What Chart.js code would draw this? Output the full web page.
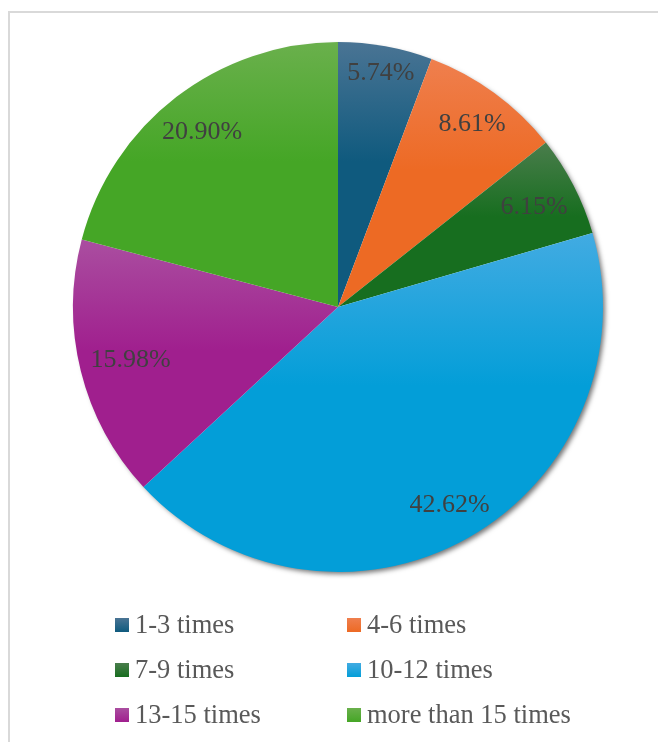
<!DOCTYPE html>
<html>
<head>
<meta charset="utf-8">
<script src="https://cdn.jsdelivr.net/npm/chart.js@4.4.1/dist/chart.umd.min.js"></script>
<style>
    body { margin: 0; background: #fff; }
    #wrap { position: relative; width: 658px; height: 742px; overflow: hidden; }
    #frame { position: absolute; left: 8px; top: 11px; width: 700px; height: 800px;
             border-left: 2px solid #d9d9d9; border-top: 2px solid #d9d9d9; }
    #pieChart { position: absolute; left: 0; top: 0; }
    .item { position: absolute; font-family: 'Liberation Serif', 'Times New Roman', serif;
            font-size: 26.5px; color: #595959; line-height: 28px; white-space: nowrap; }
    .item .box { display: inline-block; width: 14px; height: 14px; margin-right: 6px; vertical-align: 1px; }
</style>
</head>
<body>
<div id="wrap">
    <div id="frame"></div>
    <canvas id="pieChart" width="658" height="742"></canvas>
    <div id="legend"></div>
</div>
<script>
const labels = ['1-3 times', '4-6 times', '7-9 times', '10-12 times', '13-15 times', 'more than 15 times'];
const shares = [5.74, 8.61, 6.15, 42.62, 15.98, 20.90];
const baseColors = ['#0f5a7e', '#ed6a24', '#176e1f', '#039ed8', '#a01f8e', '#45a626'];
const topColors = ['#4a7494', '#ef7f4e', '#4a7d4c', '#42abe2', '#aa4ea0', '#6ab04c'];

// vertical gradient per slice, lighter at the top of each slice
function sliceGradient(context) {
    const chart = context.chart;
    const area = chart.chartArea;
    const i = context.dataIndex;
    if (!area) return baseColors[i];
    const cy = (area.top + area.bottom) / 2;
    const r = Math.min(area.right - area.left, area.bottom - area.top) / 2;
    const total = shares.reduce((a, b) => a + b, 0);
    let start = -Math.PI / 2;
    for (let k = 0; k < i; k++) start += shares[k] / total * Math.PI * 2;
    const end = start + shares[i] / total * Math.PI * 2;
    const ys = [cy, cy + r * Math.sin(start), cy + r * Math.sin(end)];
    const within = a => {
        let t = a;
        while (t < start) t += Math.PI * 2;
        return t <= end;
    };
    if (within(-Math.PI / 2)) ys.push(cy - r);
    if (within(Math.PI / 2)) ys.push(cy + r);
    const y0 = Math.min(...ys), y1 = Math.max(...ys);
    const g = chart.ctx.createLinearGradient(0, y0, 0, y1 === y0 ? y0 + 1 : y1);
    g.addColorStop(0, topColors[i]);
    g.addColorStop(0.45, baseColors[i]);
    g.addColorStop(1, baseColors[i]);
    return g;
}

const shadowPlugin = {
    id: 'pieShadow',
    beforeDatasetsDraw(chart) {
        const arc = chart.getDatasetMeta(0).data[0];
        if (!arc) return;
        const ctx = chart.ctx;
        ctx.save();
        ctx.shadowColor = 'rgba(0,0,0,0.55)';
        ctx.shadowBlur = 5;
        ctx.shadowOffsetX = 3;
        ctx.shadowOffsetY = 3;
        ctx.fillStyle = '#ffffff';
        ctx.beginPath();
        ctx.arc(arc.x, arc.y, arc.outerRadius - 1, 0, Math.PI * 2);
        ctx.fill();
        ctx.restore();
    }
};

const valueLabels = {
    id: 'valueLabels',
    afterDatasetsDraw(chart) {
        const ctx = chart.ctx;
        ctx.save();
        ctx.font = "26px 'Liberation Serif', 'Times New Roman', serif";
        ctx.fillStyle = '#404040';
        ctx.textAlign = 'center';
        ctx.textBaseline = 'middle';
        chart.getDatasetMeta(0).data.forEach((arc, i) => {
            const text = shares[i].toFixed(2) + '%';
            const w = ctx.measureText(text).width;
            const mid = (arc.startAngle + arc.endAngle) / 2;
            const c = Math.cos(mid), s = Math.sin(mid);
            const r = arc.outerRadius - 10 - (Math.abs(c) * w / 2 + Math.abs(s) * 10);
            ctx.fillText(text, arc.x + c * r, arc.y + s * r + 1);
        });
        ctx.restore();
    }
};

new Chart(document.getElementById('pieChart').getContext('2d'), {
    type: 'pie',
    data: {
        labels: labels,
        datasets: [{
            data: shares,
            backgroundColor: sliceGradient,
            borderWidth: 0
        }]
    },
    options: {
        responsive: false,
        animation: false,
        layout: { padding: { left: 73, right: 55, top: 42, bottom: 170 } },
        plugins: {
            legend: { display: false },
            tooltip: { enabled: false }
        }
    },
    plugins: [shadowPlugin, valueLabels]
});

// two column legend below the pie
const legendEl = document.getElementById('legend');
const colX = [115, 347];
const rowY = [624, 669, 714];
labels.forEach((name, i) => {
    const item = document.createElement('div');
    item.className = 'item';
    item.style.left = colX[i % 2] + 'px';
    item.style.top = (rowY[Math.floor(i / 2)] - 14) + 'px';
    const box = document.createElement('span');
    box.className = 'box';
    box.style.background = 'linear-gradient(' + topColors[i] + ', ' + baseColors[i] + ')';
    item.appendChild(box);
    item.appendChild(document.createTextNode(name));
    legendEl.appendChild(item);
});
</script>
</body>
</html>
